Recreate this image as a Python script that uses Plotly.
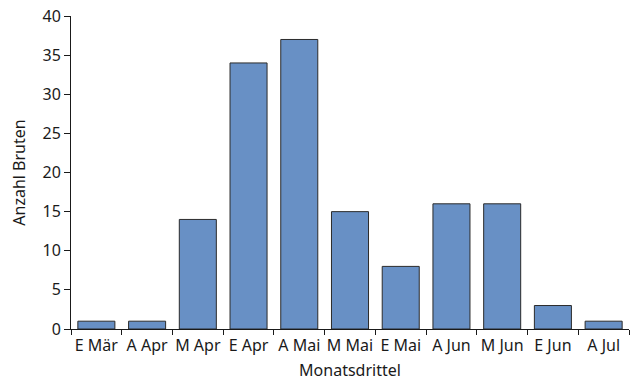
import plotly.graph_objects as go

categories = ["E Mär", "A Apr", "M Apr", "E Apr", "A Mai", "M Mai", "E Mai", "A Jun", "M Jun", "E Jun", "A Jul"]
values = [1, 1, 14, 34, 37, 15, 8, 16, 16, 3, 1]
y_ticks = [0, 5, 10, 15, 20, 25, 30, 35, 40]

fig = go.Figure(go.Bar(
    x=categories, y=values, width=0.73,
    marker=dict(color="#6890c5", line=dict(color="#2b2b2b", width=1)),
))

font = dict(family="Noto Sans, Open Sans, sans-serif", size=16, color="#1a1a1a")
fig.update_layout(
    width=630, height=382,
    margin=dict(l=71, r=1, t=16, b=53),
    plot_bgcolor="white", paper_bgcolor="white",
    font=font, showlegend=False,
)
fig.update_xaxes(
    automargin=False,
    showline=True, linecolor="#1a1a1a", linewidth=1,
    ticks="outside", tickson="boundaries", ticklen=5, tickcolor="#1a1a1a",
    tickfont=dict(size=16), tickangle=0, ticklabelstandoff=2,
    showgrid=False, title=dict(text="Monatsdrittel", standoff=9, font=dict(size=16)),
)
fig.update_yaxes(
    automargin=False,
    range=[0, 40], tickvals=y_ticks,
    showline=True, linecolor="#1a1a1a", linewidth=1,
    ticks="outside", ticklen=6, tickcolor="#1a1a1a",
    tickfont=dict(size=16),
    showgrid=False, zeroline=False,
    title=dict(text="Anzahl Bruten", standoff=12, font=dict(size=16)),
)
fig.write_html("out.html", config={"displayModeBar": False},
               post_script="document.body.style.margin='0';")
